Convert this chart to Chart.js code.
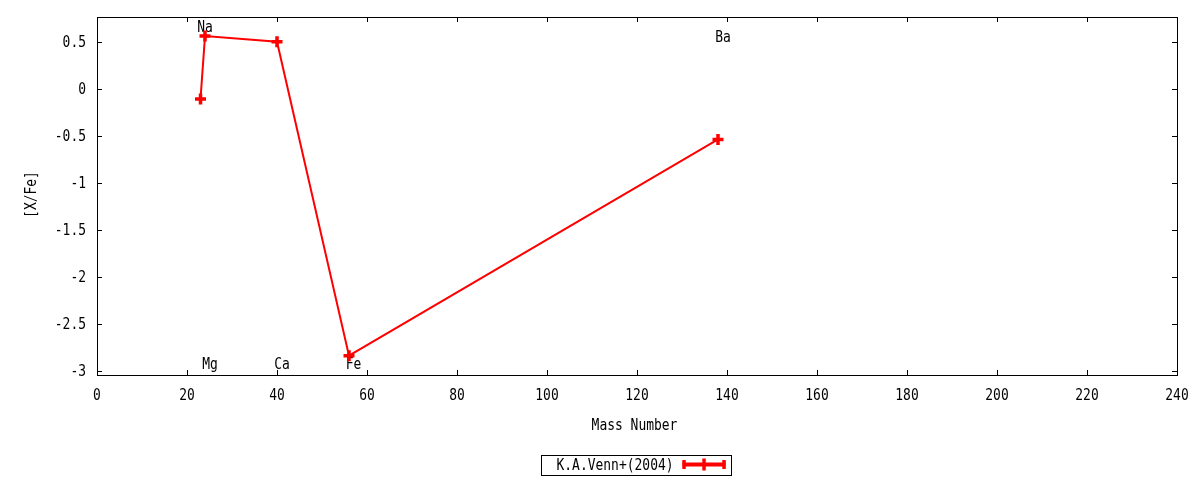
<!DOCTYPE html>
<html><head><meta charset="utf-8">
<script src="https://cdn.jsdelivr.net/npm/chart.js@4"></script>
<style>html,body{margin:0;padding:0;background:#fff}#wrap{width:1200px;height:480px;position:relative}</style>
</head><body><div id="wrap"><canvas id="c"></canvas></div>
<script>
// ---- data ----
const massNumbers = [23, 24, 40, 56, 138];
const xFeValues = [-0.11, 0.56, 0.50, -2.84, -0.54];
const seriesName = 'K.A.Venn+(2004)';
const xTickValues = [0, 20, 40, 60, 80, 100, 120, 140, 160, 180, 200, 220, 240];
const yTickValues = [-3, -2.5, -2, -1.5, -1, -0.5, 0, 0.5];
const labelNames = ['Na', 'Mg', 'Ca', 'Fe', 'Ba'];
const labelX = [24, 25.1, 41.1, 57.0, 139.1];
const labelY = [0.665, -2.92, -2.92, -2.92, 0.553];
const xTitle = 'Mass Number';
const yTitle = '[X/Fe]';

const FONT = "'DejaVu Sans Mono', 'Liberation Mono', monospace";
const RED = '#ff0000';
const SX = 0.81;
const DY = 1.5;

function drawText(ctx, text, x, y, align, rot) {
  ctx.save();
  ctx.translate(x, y);
  if (rot) ctx.rotate(rot);
  ctx.scale(SX, 1);
  ctx.font = '16px ' + FONT;
  ctx.fillStyle = '#000';
  ctx.textAlign = align;
  ctx.textBaseline = 'middle';
  ctx.fillText(text, 0, DY);
  ctx.restore();
}
function textWidth(ctx, text) {
  ctx.save();
  ctx.font = '16px ' + FONT;
  const w = ctx.measureText(text).width * SX;
  ctx.restore();
  return w;
}

const framePlugin = {
  id: 'frame',
  beforeDatasetsDraw(chart) {
    const {ctx, chartArea: a, scales: {x, y}} = chart;
    ctx.save();
    ctx.strokeStyle = '#000';
    ctx.lineWidth = 1;
    ctx.beginPath();
    const tl = 5;
    x.ticks.forEach(t => {
      const px = Math.round(x.getPixelForValue(t.value)) + 0.5;
      ctx.moveTo(px, a.bottom); ctx.lineTo(px, a.bottom - tl);
      ctx.moveTo(px, a.top); ctx.lineTo(px, a.top + tl);
    });
    y.ticks.forEach(t => {
      const py = Math.round(y.getPixelForValue(t.value)) + 0.5;
      ctx.moveTo(a.left, py); ctx.lineTo(a.left + tl, py);
      ctx.moveTo(a.right, py); ctx.lineTo(a.right - tl, py);
    });
    ctx.stroke();
    ctx.strokeRect(Math.round(a.left) + 0.5, Math.round(a.top) + 0.5,
      Math.round(a.right - a.left), Math.round(a.bottom - a.top));
    ctx.restore();
    // tick labels
    x.ticks.forEach(t => drawText(ctx, String(t.value), x.getPixelForValue(t.value), a.bottom + 19.5, 'center'));
    y.ticks.forEach(t => drawText(ctx, String(t.value), a.left - 11, y.getPixelForValue(t.value), 'right'));
    // axis titles
    drawText(ctx, xTitle, (a.left + a.right) / 2 - 2.5, 424, 'center');
    drawText(ctx, yTitle, 30, (a.top + a.bottom) / 2 - 1.5, 'center', -Math.PI / 2);
    // element labels
    labelNames.forEach((n, i) => {
      drawText(ctx, n, x.getPixelForValue(labelX[i]), y.getPixelForValue(labelY[i]), 'center');
    });
  },
  afterDraw(chart) {
    const {ctx, chartArea: a} = chart;
    ctx.save();
    const cx = (a.left + a.right) / 2 - 1;
    const cy = 464.5;
    const tw = textWidth(ctx, seriesName);
    const sampleW = 43;
    const w = 15 + tw + 9 + sampleW + 6;
    const h = 20;
    const x0 = Math.round(cx - w / 2) + 0.5;
    const y0 = Math.round(cy - h / 2) + 0.5;
    ctx.strokeStyle = '#000';
    ctx.lineWidth = 1;
    ctx.strokeRect(x0, y0, Math.round(w), h);
    drawText(ctx, seriesName, x0 + 15, cy - 0.5, 'left');
    const sx = x0 + 15 + tw + 9;
    ctx.strokeStyle = RED;
    ctx.lineWidth = 4;
    ctx.beginPath();
    ctx.moveTo(sx, cy); ctx.lineTo(sx + sampleW, cy);
    ctx.stroke();
    ctx.lineWidth = 3.5;
    ctx.beginPath();
    ctx.moveTo(sx + 1.5, cy - 4.5); ctx.lineTo(sx + 1.5, cy + 4.5);
    ctx.moveTo(sx + sampleW - 1.5, cy - 4.5); ctx.lineTo(sx + sampleW - 1.5, cy + 4.5);
    ctx.moveTo(sx + sampleW / 2, cy - 6); ctx.lineTo(sx + sampleW / 2, cy + 6);
    ctx.stroke();
    ctx.restore();
  }
};

new Chart(document.getElementById('c'), {
  type: 'scatter',
  data: {
    datasets: [{
      label: seriesName,
      data: massNumbers.map((m, i) => ({x: m, y: xFeValues[i]})),
      showLine: true,
      borderColor: RED,
      backgroundColor: RED,
      borderWidth: 2,
      pointStyle: 'cross',
      pointRadius: 5.5,
      pointBorderWidth: 3.5,
      pointBorderColor: RED,
      clip: false
    }]
  },
  options: {
    responsive: true,
    maintainAspectRatio: false,
    animation: false,
    devicePixelRatio: 1,
    layout: {padding: {left: 0, right: 23, top: 17, bottom: 0}},
    plugins: {legend: {display: false}, tooltip: {enabled: false}},
    scales: {
      x: {
        type: 'linear', position: 'bottom', min: 0, max: 240,
        grid: {display: false, drawTicks: false},
        border: {display: false},
        afterBuildTicks: s => { s.ticks = xTickValues.map(v => ({value: v})); },
        afterFit: s => { s.height = 105; },
        ticks: {display: false},
        title: {display: false, text: xTitle}
      },
      y: {
        type: 'linear', position: 'left', min: -3.046, max: 0.763,
        grid: {display: false, drawTicks: false},
        border: {display: false},
        afterBuildTicks: s => { s.ticks = yTickValues.map(v => ({value: v})); },
        afterFit: s => { s.width = 97; },
        ticks: {display: false},
        title: {display: false, text: yTitle}
      }
    }
  },
  plugins: [framePlugin]
});
</script>
</body></html>
